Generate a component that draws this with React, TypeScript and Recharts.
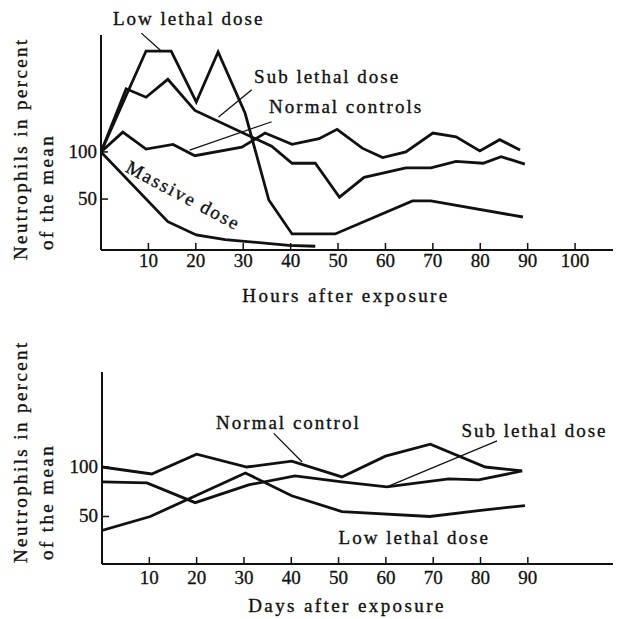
import { LineChart, Line, XAxis, YAxis, ReferenceLine, ReferenceDot, Label } from "recharts";

type Pt = { t: number; v: number };

const INK = "#111";
const FONT = "'Liberation Serif', 'DejaVu Serif', serif";

// Top panel: hours after exposure
const hourTicks = [10, 20, 30, 40, 50, 60, 70, 80, 90, 100];
const hourValueTicks = [50, 100];

const lowLethalHours: Pt[] = [
  { t: 0, v: 100 }, { t: 9.5, v: 207 }, { t: 14.8, v: 207 }, { t: 20.1, v: 153 },
  { t: 24.7, v: 206 }, { t: 30.4, v: 141 }, { t: 35.4, v: 49 }, { t: 40.3, v: 13 },
  { t: 49.4, v: 13 }, { t: 65.7, v: 48 }, { t: 69.6, v: 48 }, { t: 89, v: 31 },
];
const subLethalHours: Pt[] = [
  { t: 0, v: 100 }, { t: 5.3, v: 167 }, { t: 9.5, v: 158 }, { t: 14.1, v: 177 },
  { t: 19.8, v: 144 }, { t: 36, v: 106 }, { t: 40.3, v: 88 }, { t: 45.2, v: 88 },
  { t: 50.3, v: 52 }, { t: 55.5, v: 73 }, { t: 64.3, v: 83 }, { t: 69.6, v: 83 },
  { t: 74.9, v: 90 }, { t: 80.6, v: 88 }, { t: 84.4, v: 95 }, { t: 89.4, v: 87 },
];
const normalHours: Pt[] = [
  { t: 0, v: 100 }, { t: 4.6, v: 121 }, { t: 9.5, v: 103 }, { t: 15.2, v: 108 },
  { t: 19.8, v: 96 }, { t: 29.7, v: 105 }, { t: 34.6, v: 120 }, { t: 40.3, v: 108 },
  { t: 46, v: 114 }, { t: 49.8, v: 124 }, { t: 55.1, v: 104 }, { t: 59.4, v: 94 },
  { t: 64.3, v: 100 }, { t: 70, v: 120 }, { t: 74.9, v: 116 }, { t: 79.9, v: 101 },
  { t: 84.1, v: 113 }, { t: 88.4, v: 102 },
];
const massiveHours: Pt[] = [
  { t: 0, v: 100 }, { t: 14.1, v: 26 }, { t: 20.1, v: 12 }, { t: 26.2, v: 7 },
  { t: 39.6, v: 1 }, { t: 45.2, v: 0 },
];

// Bottom panel: days after exposure
const dayTicks = [10, 20, 30, 40, 50, 60, 70, 80, 90];
const dayValueTicks = [50, 100];

const normalDays: Pt[] = [
  { t: 0, v: 100 }, { t: 10.5, v: 93 }, { t: 20, v: 113 }, { t: 30.6, v: 100 },
  { t: 40.1, v: 106 }, { t: 50.7, v: 90 }, { t: 59.9, v: 111 }, { t: 69.4, v: 123 },
  { t: 81, v: 100 }, { t: 88.8, v: 96 },
];
const subLethalDays: Pt[] = [
  { t: 0, v: 85 }, { t: 9.5, v: 84 }, { t: 19.7, v: 64 }, { t: 31, v: 82 },
  { t: 40.8, v: 91 }, { t: 50.7, v: 85 }, { t: 60.2, v: 80 }, { t: 73.3, v: 88 },
  { t: 79.6, v: 87 }, { t: 88.8, v: 96 },
];
const lowLethalDays: Pt[] = [
  { t: 0, v: 36 }, { t: 10.2, v: 50 }, { t: 30.3, v: 94 }, { t: 40.1, v: 71 },
  { t: 50.7, v: 55 }, { t: 69.3, v: 50 }, { t: 79.6, v: 56 }, { t: 89.4, v: 61 },
];

// annotation text and leader lines, in data units
const hourNotes = [
  { text: "Low lethal dose", t: 18.5, v: 242, angle: 0 },
  { text: "Sub lethal dose", t: 47.7, v: 179.5, angle: 0 },
  { text: "Normal controls", t: 51.7, v: 148, angle: 0 },
  { text: "Massive dose", t: 17.4, v: 54, angle: 28 },
];
const hourLeaders = [
  [{ x: 8.5, y: 226 }, { x: 12.7, y: 207 }],
  [{ x: 31.8, y: 166 }, { x: 24.8, y: 137 }],
  [{ x: 36, y: 132 }, { x: 18.7, y: 102 }],
];
const dayNotes = [
  { text: "Normal control", t: 39.4, v: 145, angle: 0 },
  { text: "Sub lethal dose", t: 91.4, v: 137, angle: 0 },
  { text: "Low lethal dose", t: 66, v: 29, angle: 0 },
];
const dayLeaders = [
  [{ x: 36.3, y: 134 }, { x: 42.3, y: 105 }],
  [{ x: 83.5, y: 126.5 }, { x: 60.2, y: 80 }],
];

const textStyle = {
  fontFamily: FONT,
  fill: INK,
  stroke: INK,
  strokeWidth: 0.35,
  fontSize: 19,
  letterSpacing: 2,
};
const titleStyle = { ...textStyle, letterSpacing: 2.4 };

const makeXTick = (dy: number) => (props: any) => {
  const { x, y, payload } = props;
  return (
    <g>
      <line x1={x} y1={y} x2={x} y2={y - 7} stroke={INK} strokeWidth={1.5} />
      <text x={x} y={y + dy} textAnchor="middle" fontSize={19} fontFamily={FONT} fill={INK} stroke={INK} strokeWidth={0.3}>
        {payload.value}
      </text>
    </g>
  );
};

const YTick = (props: any) => {
  const { x, y, payload } = props;
  return (
    <g>
      <line x1={x} y1={y} x2={x + 7} y2={y} stroke={INK} strokeWidth={1.5} />
      <text x={x - 4} y={y + 6} textAnchor="end" fontSize={19} fontFamily={FONT} fill={INK} stroke={INK} strokeWidth={0.3}>
        {payload.value}
      </text>
    </g>
  );
};

const noteLabel = (text: string, angle: number) => (props: any) => {
  const vb = props.viewBox || {};
  const cx = (vb.x ?? 0) + (vb.width ?? 0) / 2;
  const cy = (vb.y ?? 0) + (vb.height ?? 0) / 2;
  return (
    <text
      x={cx}
      y={cy}
      textAnchor="middle"
      dominantBaseline="central"
      transform={angle ? `rotate(${angle} ${cx} ${cy})` : undefined}
      {...textStyle}
    >
      {text}
    </text>
  );
};

const yTitle = (drop1: number, drop2: number) => (props: any) => {
  const vb = props.viewBox;
  const bottom = vb.y + vb.height;
  const x1 = vb.x - 13;
  const x2 = vb.x + 13;
  return (
    <g>
      <text x={x1} y={bottom + drop1} transform={`rotate(-90 ${x1} ${bottom + drop1})`} {...titleStyle}>
        Neutrophils in percent
      </text>
      <text x={x2} y={bottom + drop2} transform={`rotate(-90 ${x2} ${bottom + drop2})`} {...titleStyle}>
        of the mean
      </text>
    </g>
  );
};

const xTitle = (text: string, dx: number, dy: number) => (props: any) => {
  const vb = props.viewBox;
  return (
    <text x={vb.x + dx} y={vb.y + dy} textAnchor="middle" dominantBaseline="central" {...titleStyle}>
      {text}
    </text>
  );
};

const lineProps = {
  type: "linear" as const,
  dataKey: "v",
  stroke: INK,
  strokeWidth: 2.8,
  dot: false,
  isAnimationActive: false,
};

export default function App() {
  return (
    <div style={{ position: "absolute", left: 0, top: 0, width: 618, height: 619, background: "#fff" }}>
      <LineChart width={618} height={310} margin={{ top: 35, right: 5, bottom: 30, left: 40 }}>
        <XAxis
          dataKey="t"
          type="number"
          domain={[0, 108]}
          ticks={hourTicks}
          tick={makeXTick(17)}
          tickSize={0}
          tickMargin={0}
          height={30}
          axisLine={{ stroke: INK, strokeWidth: 2 }}
          allowDataOverflow
        >
          <Label content={xTitle("Hours after exposure", 245, 45)} />
        </XAxis>
        <YAxis
          type="number"
          domain={[-4, 224]}
          ticks={hourValueTicks}
          tick={YTick}
          tickSize={0}
          tickMargin={0}
          width={61}
          axisLine={{ stroke: INK, strokeWidth: 2 }}
          allowDataOverflow
        >
          <Label content={yTitle(10, 0)} />
        </YAxis>
        <Line {...lineProps} data={lowLethalHours} />
        <Line {...lineProps} data={subLethalHours} />
        <Line {...lineProps} data={normalHours} />
        <Line {...lineProps} data={massiveHours} />
        {hourLeaders.map((seg, i) => (
          <ReferenceLine key={i} segment={seg} stroke={INK} strokeWidth={1.3} ifOverflow="visible" />
        ))}
        {hourNotes.map((n) => (
          <ReferenceDot
            key={n.text}
            x={n.t}
            y={n.v}
            r={0}
            fill="none"
            stroke="none"
            ifOverflow="visible"
            label={noteLabel(n.text, n.angle)}
          />
        ))}
      </LineChart>
      <LineChart width={618} height={309} margin={{ top: 62, right: 5, bottom: 25, left: 40 }}>
        <XAxis
          dataKey="t"
          type="number"
          domain={[0, 108]}
          ticks={dayTicks}
          tick={makeXTick(20)}
          tickSize={0}
          tickMargin={0}
          height={30}
          axisLine={{ stroke: INK, strokeWidth: 2 }}
          allowDataOverflow
        >
          <Label content={xTitle("Days after exposure", 245, 41)} />
        </XAxis>
        <YAxis
          type="number"
          domain={[2, 196]}
          ticks={dayValueTicks}
          tick={YTick}
          tickSize={0}
          tickMargin={0}
          width={62}
          axisLine={{ stroke: INK, strokeWidth: 2 }}
          allowDataOverflow
        >
          <Label content={yTitle(-1, -4)} />
        </YAxis>
        <Line {...lineProps} data={normalDays} />
        <Line {...lineProps} data={subLethalDays} />
        <Line {...lineProps} data={lowLethalDays} />
        {dayLeaders.map((seg, i) => (
          <ReferenceLine key={i} segment={seg} stroke={INK} strokeWidth={1.3} ifOverflow="visible" />
        ))}
        {dayNotes.map((n) => (
          <ReferenceDot
            key={n.text}
            x={n.t}
            y={n.v}
            r={0}
            fill="none"
            stroke="none"
            ifOverflow="visible"
            label={noteLabel(n.text, n.angle)}
          />
        ))}
      </LineChart>
    </div>
  );
}
